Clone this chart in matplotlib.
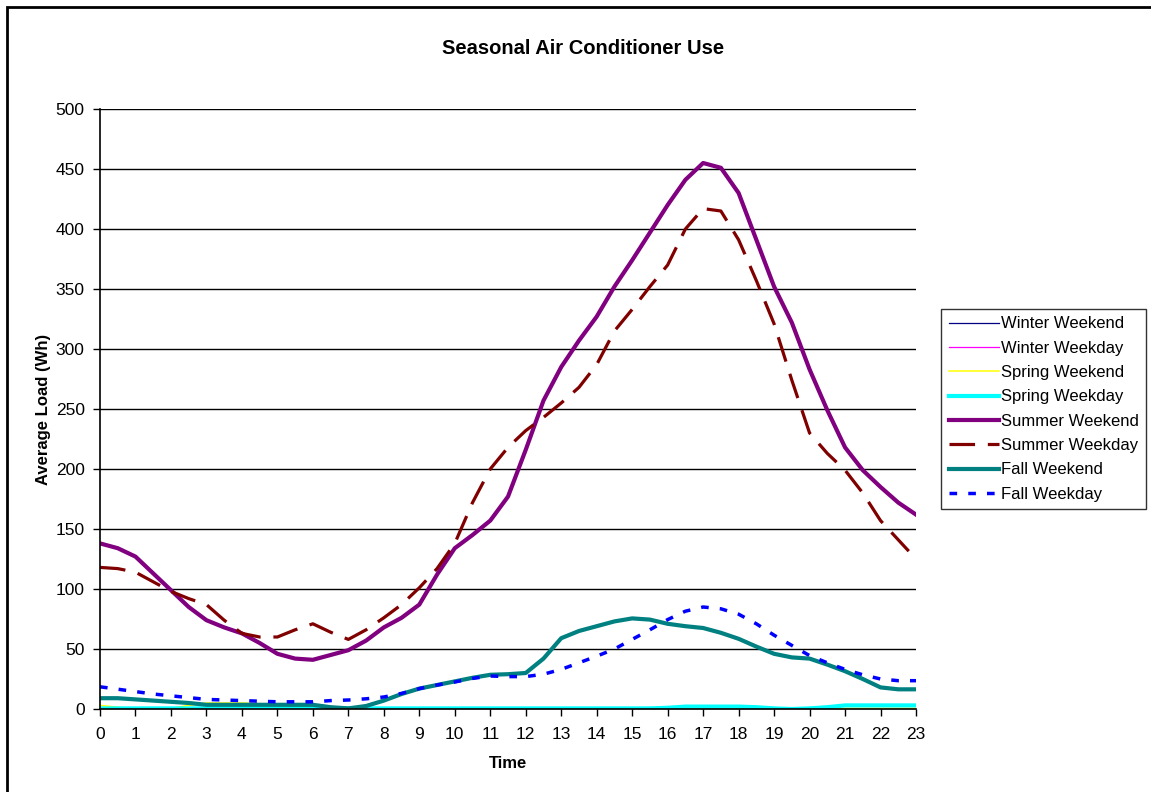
import numpy as np
import matplotlib
matplotlib.use("Agg")
import matplotlib.pyplot as plt
from matplotlib.patches import Rectangle

plt.rcParams['font.family'] = ['Liberation Sans', 'DejaVu Sans']

# half-hour readings, 0:00 .. 23:00
hours = np.arange(0, 23.01, 0.5)

winter_weekend = [0, 0, 0, 0, 0, 0, 0, 0, 0, 0, 0, 0, 0, 0, 0, 0,
                  0, 0, 0, 0, 0, 0, 0, 0, 0, 0, 0, 0, 0, 0, 0, 0,
                  0, 0, 0, 0, 0, 0, 0, 0, 0, 0, 0, 0, 0, 0, 0]
winter_weekday = [0, 0, 0, 0, 0, 0, 0, 0, 0, 0, 0, 0, 0, 0, 0, 0,
                  0, 0, 0, 0, 0, 0, 0, 0, 0, 0, 0, 0, 0, 0, 0, 0,
                  0, 0, 0, 0, 0, 0, 0, 0, 0, 0, 0, 0, 0, 0, 0]
spring_weekend = [3, 1.5, 0.5, 0.5, 0.5, 3, 5, 5, 5, 4.5, 3, 2, 1.5, 0, 0, 0,
                  0, 0, 0, 0, 0, 0, 0, 0, 0, 0, 0, 0, 0, 0, 0, 0,
                  0, 0, 0, 0, 0, 0, 0, 0, 0.5, 0.5, 0.5, 0.5, 0.5, 0.5, 0.5]
spring_weekday = [0.5, 0.5, 0.5, 0.5, 0.5, 0.5, 0.5, 0.5, 0.5, 0.5, 0.5, 0.5, 0.5, 0.5, 0.5, 0.5,
                  0.5, 0.5, 0.5, 0.5, 0.5, 0.5, 0.5, 0.5, 0.5, 0.5, 0.5, 0.5, 0.5, 0.5, 0.5, 0.5,
                  1, 2, 2, 2, 2, 1.5, 0.5, 0, 0.5, 1.5, 3, 3, 3, 3, 3]
summer_weekend = [138, 134, 127, 113, 99, 85, 74, 68, 63, 55, 46, 42, 41, 45, 49, 57,
                  68, 76, 87, 112, 134, 145, 157, 177, 216, 257, 285, 307, 327, 352, 374, 397,
                  420, 441, 455, 451, 430, 391, 352, 322, 283, 249, 218, 199, 185, 172, 162]
summer_weekday = [118, 117, 114, 106, 98, 92, 87, 74, 63, 60, 60, 66, 71, 64, 58, 66,
                  76, 87, 101, 117, 138, 172, 200, 218, 232, 243, 255, 268, 287, 315, 333, 352,
                  370, 400, 417, 415, 391, 357, 321, 274, 230, 213, 199, 180, 157, 141, 125]
fall_weekend = [9, 9, 8, 7, 6, 5, 3.5, 3.5, 3.5, 3.5, 3.5, 3.5, 3.5, 1.5, 0.5, 2.5,
                7, 12.5, 17, 20, 23, 26, 28.5, 29, 30, 42, 59, 65, 69, 73, 75.5, 74.5,
                71, 69, 67.5, 63.5, 58.5, 52, 46, 43, 42, 37, 31.5, 25, 18, 16.4, 16.4]
fall_weekday = [18.5, 16.5, 14.5, 12.5, 11, 9.5, 8, 7.5, 7, 6.5, 6, 6, 6, 7, 7.5, 8.5,
                10, 13, 17, 20, 22.5, 25.5, 27.5, 27, 27, 29, 33, 38.5, 44, 50, 58, 66,
                74.5, 81.5, 85, 83.5, 79, 71, 61.5, 53, 44.5, 38.5, 33, 28.5, 25, 23.6, 23.6]

fig = plt.figure(figsize=(11.51, 7.92), dpi=100)
ax = fig.add_axes([100/1151, 1 - 709/792, 816/1151, 600/792])

ax.plot(hours, winter_weekend, color='#000080', lw=0.9, label='Winter Weekend')
ax.plot(hours, winter_weekday, color='#FF00FF', lw=0.9, label='Winter Weekday')
ax.plot(hours, spring_weekend, color='#FFFF00', lw=1.1, label='Spring Weekend')
ax.plot(hours, spring_weekday, color='#00FFFF', lw=3, label='Spring Weekday')
ax.plot(hours, summer_weekend, color='#800080', lw=3, label='Summer Weekend')
ax.plot(hours, summer_weekday, color='#800000', lw=2.3, dashes=(8, 4), label='Summer Weekday')
ax.plot(hours, fall_weekend, color='#008080', lw=3, label='Fall Weekend')
ax.plot(hours, fall_weekday, color='#0000FF', lw=2.5, dashes=(2.2, 3.2), label='Fall Weekday')

ax.set_xlim(0, 23)
ax.set_ylim(0, 500)
ax.set_xticks(range(0, 24))
ax.set_yticks(range(0, 501, 50))
ax.yaxis.grid(True, color='black', lw=1)
ax.set_axisbelow(True)
for s in ['top', 'right']:
    ax.spines[s].set_visible(False)
ax.spines['left'].set_linewidth(1.2)
ax.spines['bottom'].set_linewidth(1.2)
ax.tick_params(axis='both', direction='out', length=5, width=1, labelsize=12.5, pad=6)
ax.tick_params(axis='x', pad=8)

ax.set_xlabel('Time', fontsize=12, fontweight='bold', labelpad=10)
ax.set_ylabel('Average Load (Wh)', fontsize=12, fontweight='bold', labelpad=3)
fig.text(583/1151, 1 - 48/792, 'Seasonal Air Conditioner Use', ha='center', va='center',
         fontsize=14.5, fontweight='bold')

leg = fig.legend(loc='upper left', bbox_to_anchor=(941/1151, 1 - 309/792),
                 fontsize=12, frameon=True, fancybox=False, edgecolor='black',
                 handlelength=3.0, handletextpad=0.15, labelspacing=0.56,
                 borderpad=0.45, borderaxespad=0)
leg.get_frame().set_linewidth(1)

# chart border (cut off on right and bottom)
fig.add_artist(Rectangle((7/1151, -0.1), 1.2, 1.1 - 7/792, transform=fig.transFigure,
                         fill=False, lw=2, edgecolor='black'))

fig.savefig('out.png', dpi=100)
